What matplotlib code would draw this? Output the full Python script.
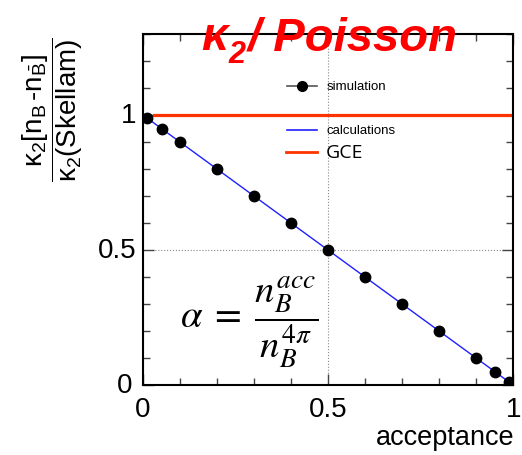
import numpy as np
import matplotlib
matplotlib.use('Agg')
import matplotlib.pyplot as plt
from matplotlib.ticker import MultipleLocator
from matplotlib.lines import Line2D

plt.rcParams['font.family'] = ['Liberation Sans', 'DejaVu Sans']
plt.rcParams['mathtext.fontset'] = 'custom'
plt.rcParams['mathtext.rm'] = 'Liberation Sans'
plt.rcParams['mathtext.it'] = 'Liberation Sans:italic'

# simulated points: kappa2 ratio vs acceptance
sim_acc = [0.01, 0.05, 0.1, 0.2, 0.3, 0.4, 0.5, 0.6, 0.7, 0.8, 0.9, 0.95, 0.99]
sim_ratio = [0.99, 0.95, 0.90, 0.80, 0.70, 0.60, 0.50, 0.40, 0.30, 0.20, 0.10, 0.05, 0.01]
# binomial calculation
calc_acc = [0.0, 1.0]
calc_ratio = [1.0, 0.0]
# grand canonical
gce_acc = [0.03, 1.0]
gce_ratio = [1.0, 1.0]

fig = plt.figure(figsize=(5.22, 4.56), dpi=100)
ax = fig.add_axes([0.274, 0.1535, 0.709, 0.7695])

ax.plot(gce_acc, gce_ratio, color='#ff3300', lw=2.3, zorder=2)
ax.plot(calc_acc, calc_ratio, color='#2020ff', lw=1.0, zorder=3)
ax.plot(sim_acc, sim_ratio, 'o', color='black', ms=7.5, zorder=4)

ax.set_xlim(0, 1)
ax.set_ylim(0, 1.30)
ax.xaxis.set_major_locator(MultipleLocator(0.5))
ax.xaxis.set_minor_locator(MultipleLocator(0.1))
ax.yaxis.set_major_locator(MultipleLocator(0.5))
ax.yaxis.set_minor_locator(MultipleLocator(0.1))
ax.set_xticklabels([])
ax.set_yticklabels([])
ax.tick_params(which='both', direction='in', top=True, right=True, width=1.0, color='#444444')
ax.tick_params(which='major', length=8)
ax.tick_params(which='minor', length=5)
ax.grid(True, which='major', ls=':', color='#888888', lw=0.8)
for s in ax.spines.values():
    s.set_linewidth(1.5)

# tick labels, ROOT style
for v, t in [(0.0, '0'), (0.5, '0.5'), (1.0, '1')]:
    ax.text(v, -0.03, t, transform=ax.get_xaxis_transform(), ha='center', va='top', fontsize=20)
for v, t in [(0.0, '0'), (0.5, '0.5'), (1.0, '1')]:
    ax.text(-0.018 if v > 0 else -0.03, v, t, transform=ax.get_yaxis_transform(), ha='right', va='center', fontsize=20)

fig.text(0.985, 0.04, 'acceptance', ha='right', va='center', fontsize=19.5)

fig.text(0.1, 0.76,
         r'$\dfrac{\mathrm{κ}_2[\mathrm{n}_\mathrm{B}\,\mathrm{\text{-}n}_{\bar{\mathrm{B}}}]}{\mathrm{κ}_2(\mathrm{Skellam})}$',
         rotation=90, ha='center', va='center', fontsize=20)

# title
fig.text(0.385, 0.89, 'κ', color='red', fontsize=34, fontweight='bold', style='italic', ha='left', va='baseline')
fig.text(0.437, 0.862, '2', color='red', fontsize=22, fontweight='bold', style='italic', ha='left', va='baseline')
fig.text(0.475, 0.89, '/ Poisson', color='red', fontsize=34, fontweight='bold', style='italic', ha='left', va='baseline')

ax.text(0.286, 0.18, r'$\alpha\;=\;\dfrac{n_B^{acc}}{n_B^{4\pi}}$', transform=ax.transAxes,
        ha='center', va='center', fontsize=28, math_fontfamily='stix')

# legend
lx = [0.39, 0.47]
ax.add_line(Line2D(lx, [0.852, 0.852], transform=ax.transAxes, color='#555555', lw=1.2))
ax.plot([0.43], [0.852], 'o', color='black', ms=7, transform=ax.transAxes)
ax.text(0.495, 0.852, 'simulation', transform=ax.transAxes, va='center', fontsize=9.5)
ax.add_line(Line2D(lx, [0.726, 0.726], transform=ax.transAxes, color='#2020ff', lw=1.2))
ax.text(0.495, 0.726, 'calculations', transform=ax.transAxes, va='center', fontsize=9.5)
ax.add_line(Line2D([0.385, 0.47], [0.664, 0.664], transform=ax.transAxes, color='#ff3300', lw=2))
ax.text(0.495, 0.664, 'GCE', transform=ax.transAxes, va='center', fontsize=14, family='Open Sans')

fig.savefig('out.png', dpi=100)
